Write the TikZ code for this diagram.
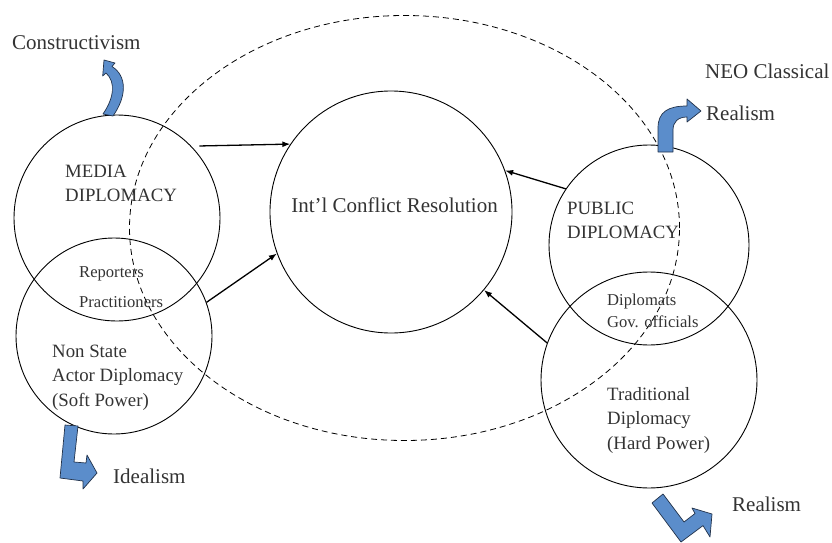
\documentclass[tikz,border=0pt]{standalone}
\usepackage{fontspec}
\setmainfont{Liberation Serif}
\usetikzlibrary{arrows.meta,positioning}
\definecolor{ink}{HTML}{333333}
\definecolor{bendfill}{HTML}{5B8DCB}
\definecolor{bendline}{HTML}{22324A}

\begin{document}
\begin{tikzpicture}[x=1pt,y=-1pt,>={Latex[length=8pt,width=6pt]},
ring/.style={draw,circle,inner sep=0pt,line width=0.9pt},
lbl/.style={inner sep=0pt,text=ink,align=left,font=\fontsize{21}{24.3}\selectfont},
ctext/.style={inner sep=0pt,text=ink,align=left,font=\fontsize{18.8}{24.4}\selectfont},
small/.style={inner sep=0pt,text=ink,align=left,font=\fontsize{16.6}{22}\selectfont},
link/.style={->,line width=1.3pt},
bent/.style={fill=bendfill,draw=bendline,line width=0.7pt,line join=round}]
\useasboundingbox (0,0) rectangle (832,543);
\clip (0,0) rectangle (832,543);
\draw[dash pattern=on 6pt off 4pt,line width=0.8pt] (404.5,228) ellipse [x radius=275pt,y radius=212.5pt];
\node[ring,minimum size=206pt] (media) at (117,218) {};
\node[ring,minimum size=196pt] (nonst) at (114,336) {};
\node[ring,minimum size=242pt] (conf) at (391,212) {};
\node[ring,minimum size=200pt] (pub) at (649,245) {};
\node[ring,minimum size=216pt] (trad) at (649,380) {};
\node[lbl,anchor=base west] (constr) at (12,50) {Constructivism};
\node[ctext,anchor=north west] (mediatxt) at (65,164.6) {MEDIA\\DIPLOMACY};
\node[small,anchor=north west] (rep) at (79,266) {Reporters\\[8pt]Practitioners};
\node[ctext,anchor=north west] (nonsttxt) at (52,344.6) {Non State\\Actor Diplomacy\\(Soft Power)};
\node[lbl,anchor=base west] (ideal) at (113,483) {Idealism};
\node[lbl,anchor=base] (conftxt) at (394.5,212) {Int'l Conflict Resolution};
\node[lbl,anchor=base west] (neo) at (705,78) {NEO Classical};
\node[lbl,anchor=base west] (real) at (706,120) {Realism};
\node[ctext,anchor=north west] (pubtxt) at (567,201.6) {PUBLIC\\DIPLOMACY};
\node[small,anchor=north west] (dipl) at (607,294) {Diplomats\\Gov. officials};
\node[ctext,anchor=north west] (tradtxt) at (607,387.2) {Traditional\\Diplomacy\\(Hard Power)};
\node[lbl,anchor=base west] (realb) at (732,511) {Realism};
\draw[link,shorten <=8pt] (media.44) -- (conf.146);
\draw[link] (nonst.20) -- (conf.200);
\draw[link] (pub.146) -- (conf.20);
\draw[link] (trad.160) -- (conf.-40);
\draw[bent] (103,114) .. controls (114,98) and (116,82) .. (106,73) -- (102.7,76) -- (104,60) -- (115,63) -- (112,66.5) .. controls (127,76) and (127,96) .. (113,116) -- cycle;
\draw[bent] (658,152) -- (658,128) .. controls (658,112) and (668,106) .. (687,106) -- (687,99) -- (701,111) -- (687,122) -- (687,117) .. controls (678,117) and (673,122) .. (673,130) -- (673,152) -- cycle;
\draw[bent] (65,425) -- (78,426) -- (74,462) -- (86,463) -- (87,455) -- (97,473) -- (83,489) -- (83,481) -- (60,478) -- cycle;
\draw[bent] (652,503) -- (663,494) -- (684,522) -- (695,513.5) -- (692,508) -- (712,514) -- (710,537) -- (703,525.6) -- (681,542) -- cycle;
\end{tikzpicture}
\end{document}
